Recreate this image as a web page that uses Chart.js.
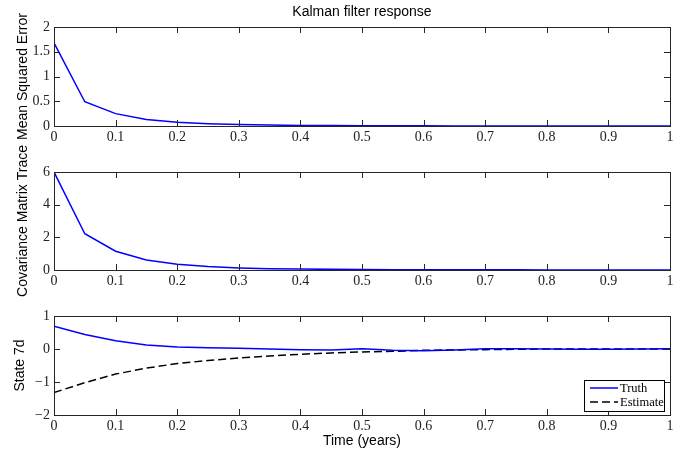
<!DOCTYPE html>
<html>
<head>
<meta charset="utf-8">
<script src="https://cdn.jsdelivr.net/npm/chart.js@4"></script>
<style>
  body { margin: 0; background: #fff; }
  #wrap { position: relative; width: 690px; height: 457px; }
  #wrap canvas { position: absolute; left: 0; top: 0; }
</style>
</head>
<body>
<div id="wrap">
  <canvas id="mseChart" width="690" height="457"></canvas>
  <canvas id="covChart" width="690" height="457"></canvas>
  <canvas id="stateChart" width="690" height="457"></canvas>
</div>
<script>
const chartTitle = "Kalman filter response";
const xLabel = "Time (years)";

const years = [0, 0.05, 0.1, 0.15, 0.2, 0.25, 0.3, 0.35, 0.4, 0.45, 0.5,
  0.55, 0.6, 0.65, 0.7, 0.75, 0.8, 0.85, 0.9, 0.95, 1];

const mse = [1.68, 0.49, 0.25, 0.13, 0.075, 0.045, 0.028, 0.018, 0.012, 0.008, 0.006,
  0.004, 0.003, 0.002, 0.0015, 0.001, 0.001, 0.0008, 0.0006, 0.0005, 0.0004];

const covTrace = [6.0, 2.22, 1.15, 0.61, 0.35, 0.21, 0.13, 0.08, 0.055, 0.04, 0.03,
  0.022, 0.017, 0.013, 0.01, 0.008, 0.007, 0.006, 0.005, 0.004, 0.004];

const truth = [0.69, 0.44, 0.25, 0.12, 0.06, 0.04, 0.02, 0.0, -0.02, -0.03, 0.01,
  -0.04, -0.05, -0.03, 0.01, 0.01, 0.0, -0.01, -0.01, 0.0, 0.01];

const estimate = [-1.32, -1.02, -0.76, -0.58, -0.44, -0.35, -0.27, -0.21, -0.16, -0.12, -0.09,
  -0.07, -0.04, -0.03, -0.02, -0.01, 0.0, 0.0, 0.0, 0.0, 0.0];

const mseTicks = [0, 2, 0.5];
const covTicks = [0, 6, 2];
const stateTicks = [-2, 1, 1];

const sansFont = "'Liberation Sans', Arial, sans-serif";
const serifFont = "'Liberation Serif', 'Times New Roman', serif";

function toPoints(xs, ys) {
  return xs.map((x, i) => ({ x: x, y: ys[i] }));
}

function fmtTick(v) {
  return String(Number(v.toFixed(2))).replace("-", "\u2212");
}

// MATLAB style box with inward ticks on all four sides
const boxPlugin = {
  id: "box",
  afterDatasetsDraw(chart) {
    const ctx = chart.ctx;
    const a = chart.chartArea;
    const tl = 6;
    ctx.save();
    ctx.strokeStyle = "#262626";
    ctx.lineWidth = 1;
    ctx.beginPath();
    chart.scales.x.ticks.forEach((t) => {
      const px = Math.round(chart.scales.x.getPixelForValue(t.value)) + 0.5;
      ctx.moveTo(px, a.bottom); ctx.lineTo(px, a.bottom - tl);
      ctx.moveTo(px, a.top); ctx.lineTo(px, a.top + tl);
    });
    chart.scales.y.ticks.forEach((t) => {
      const py = Math.round(chart.scales.y.getPixelForValue(t.value)) + 0.5;
      ctx.moveTo(a.left, py); ctx.lineTo(a.left + tl, py);
      ctx.moveTo(a.right, py); ctx.lineTo(a.right - tl, py);
    });
    ctx.stroke();
    ctx.strokeRect(Math.round(a.left) + 0.5, Math.round(a.top) + 0.5,
      Math.round(a.right - a.left), Math.round(a.bottom - a.top));
    ctx.restore();
  }
};

const titlePlugin = {
  id: "panelTitle",
  afterDraw(chart, args, opts) {
    if (!opts.text) return;
    const ctx = chart.ctx;
    const a = chart.chartArea;
    ctx.save();
    ctx.font = "14px " + sansFont;
    ctx.fillStyle = "#000";
    ctx.textAlign = "center";
    ctx.textBaseline = "middle";
    ctx.fillText(opts.text, (a.left + a.right) / 2, 12);
    ctx.restore();
  }
};

const boxLegendPlugin = {
  id: "boxLegend",
  afterDraw(chart, args, opts) {
    if (!opts.show) return;
    const ctx = chart.ctx;
    const a = chart.chartArea;
    const w = 80, h = 31;
    const x0 = a.right - 6 - w, y0 = a.bottom - 4 - h;
    ctx.save();
    ctx.fillStyle = "#fff";
    ctx.fillRect(x0, y0, w, h);
    ctx.strokeStyle = "#000";
    ctx.lineWidth = 1;
    ctx.strokeRect(x0 + 0.5, y0 + 0.5, w, h);
    ctx.font = "12.5px " + serifFont;
    ctx.textBaseline = "middle";
    chart.data.datasets.forEach((ds, i) => {
      const y = y0 + 8 + i * 14;
      ctx.strokeStyle = ds.borderColor;
      ctx.lineWidth = ds.borderWidth;
      ctx.setLineDash(ds.borderDash || []);
      ctx.beginPath();
      ctx.moveTo(x0 + 6, y);
      ctx.lineTo(x0 + 34, y);
      ctx.stroke();
      ctx.fillStyle = "#000";
      ctx.fillText(ds.label, x0 + 36, y + 1);
    });
    ctx.restore();
  }
};

function makePanel(id, cfg) {
  const xHeight = cfg.xTitle ? 42 : 20;
  return new Chart(document.getElementById(id), {
    type: "line",
    data: { datasets: cfg.datasets },
    options: {
      responsive: false,
      animation: false,
      devicePixelRatio: 1,
      events: [],
      layout: {
        padding: { left: 0, right: 20, top: cfg.top, bottom: 457 - cfg.bottom - xHeight }
      },
      plugins: {
        legend: { display: false },
        tooltip: { enabled: false },
        panelTitle: { text: cfg.title || "" },
        boxLegend: { show: !!cfg.legend }
      },
      elements: { point: { radius: 0 }, line: { tension: 0 } },
      scales: {
        x: {
          type: "linear",
          min: 0, max: 1,
          grid: { display: false, drawTicks: false },
          border: { display: false },
          ticks: {
            stepSize: 0.1, padding: 3, maxRotation: 0, autoSkip: false,
            color: "#222", font: { family: serifFont, size: 14 },
            callback: fmtTick
          },
          title: {
            display: !!cfg.xTitle, text: cfg.xTitle || "",
            color: "#000", font: { family: sansFont, size: 14 },
            padding: { top: 0, bottom: 7 }
          },
          afterFit(scale) { scale.height = xHeight; }
        },
        y: {
          min: cfg.ticks[0], max: cfg.ticks[1],
          grid: { display: false, drawTicks: false },
          border: { display: false },
          ticks: {
            stepSize: cfg.ticks[2], padding: 4,
            color: "#222", font: { family: serifFont, size: 14 },
            callback: fmtTick
          },
          title: {
            display: true, text: cfg.yTitle,
            color: "#000", font: { family: sansFont, size: 14 },
            padding: { top: cfg.yTitlePad, bottom: 0 }
          },
          afterFit(scale) { scale.width = 54; }
        }
      }
    },
    plugins: [boxPlugin, titlePlugin, boxLegendPlugin]
  });
}

makePanel("mseChart", {
  top: 27, bottom: 126, ticks: mseTicks, title: chartTitle,
  yTitle: "Mean Squared Error", yTitlePad: 15,
  datasets: [{ label: "MSE", data: toPoints(years, mse), borderColor: "#0000ff", borderWidth: 1.5 }]
});

makePanel("covChart", {
  top: 172, bottom: 270, ticks: covTicks,
  yTitle: "Covariance Matrix Trace", yTitlePad: 15,
  datasets: [{ label: "Trace", data: toPoints(years, covTrace), borderColor: "#0000ff", borderWidth: 1.5 }]
});

makePanel("stateChart", {
  top: 316, bottom: 415, ticks: stateTicks, xTitle: xLabel, legend: true,
  yTitle: "State 7d", yTitlePad: 12,
  datasets: [
    { label: "Truth", data: toPoints(years, truth), borderColor: "#0000ff", borderWidth: 1.5 },
    { label: "Estimate", data: toPoints(years, estimate), borderColor: "#000000", borderWidth: 1.5, borderDash: [8, 4] }
  ]
});
</script>
</body>
</html>
